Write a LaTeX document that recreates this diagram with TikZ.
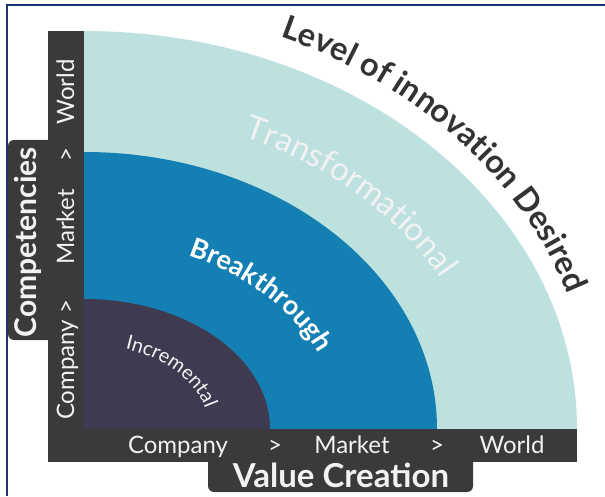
\documentclass[tikz,border=0pt]{standalone}
\usepackage{fontspec}
\setmainfont{Lato}
\usetikzlibrary{decorations.text, positioning}
\definecolor{barcol}{HTML}{3A3A3C}
\definecolor{inccol}{HTML}{403A51}
\definecolor{breakcol}{HTML}{147FB2}
\definecolor{transcol}{HTML}{BCE1DF}
\definecolor{framecol}{HTML}{1C3470}
\definecolor{titlecol}{HTML}{333333}
\definecolor{labelcol}{HTML}{F2F2F2}
\tikzset{
	x=1pt, y=1pt, % one unit is one pixel of the reference
	bar/.style={fill=barcol}, % the dark axis bars
	axis label/.style={text=labelcol, font=\fontsize{24}{24}\selectfont, inner sep=0pt},
	axis title/.style={text=labelcol, font=\bfseries\fontsize{#1}{#1}\selectfont, inner sep=0pt},
	band text/.style={decorate, decoration={text along path, text align=center, text={#1}}},
}
\begin{document}
\begin{tikzpicture}
	\useasboundingbox (0,0) rectangle (605,496);
	\coordinate (C) at (84,67);
	% the three bands
	\fill[transcol] (C) -- ++(0,398) arc[start angle=90, end angle=0, x radius=493, y radius=398] -- cycle;
	\fill[breakcol] (C) -- ++(0,277) arc[start angle=90, end angle=0, x radius=353, y radius=277] -- cycle;
	\fill[inccol] (C) -- ++(0,130) arc[start angle=90, end angle=0, x radius=186, y radius=130] -- cycle;
	% axis bars and tabs
	\fill[bar] (48,34) rectangle (84,465);
	\fill[bar] (48,34) rectangle (577,67);
	\fill[bar, rounded corners=6] (8,156) rectangle (62,356);
	\fill[bar, rounded corners=6] (208,4) rectangle (473,50);
	\draw[framecol, line width=2] (7,0) -- (7,491) -- (605,491);
	% axis labels
	\node[axis title=30, rotate=90, anchor=base] (comptitle) at (36,254) {Competencies};
	\node[axis title=33, anchor=base] (valuetitle) at (341,9) {Value Creation};
	\node[axis label, anchor=base] (vcompany) at (178,43) {Company};
	\node[axis label, anchor=base] (vgt1) at (275,43) {>};
	\node[axis label, anchor=base] (vmarket) at (352,43) {Market};
	\node[axis label, anchor=base] (vgt2) at (437,43) {>};
	\node[axis label, anchor=base] (vworld) at (512,43) {World};
	\node[axis label, rotate=90, anchor=base] (ccompany) at (74,126) {Company};
	\node[axis label, rotate=90, anchor=base] (cgt1) at (74,189) {>};
	\node[axis label, rotate=90, anchor=base] (cmarket) at (74,269) {Market};
	\node[axis label, rotate=90, anchor=base] (cgt2) at (74,341) {>};
	\node[axis label, rotate=90, anchor=base] (cworld) at (74,404) {World};
	% curved texts
	\path[band text={|\fontsize{20}{20}\selectfont\color{labelcol}|Incremental}]
		(C) ++(72:125 and 85) arc[start angle=72, end angle=12, x radius=125, y radius=85];
	\path[band text={|\bfseries\fontsize{27}{27}\selectfont\color{white}|Breakthrough}]
		(C) ++(74:255 and 190) arc[start angle=74, end angle=13, x radius=255, y radius=190];
	\path[band text={|\fontsize{33}{33}\selectfont\color{labelcol}|Transformational}]
		(C) ++(77:405 and 318) arc[start angle=77, end angle=16, x radius=405, y radius=318];
	\path[band text={|\bfseries\fontsize{32.5}{32.5}\selectfont\color{titlecol}|Level of innovation Desired}]
		(C) ++(73:510 and 425) arc[start angle=73, end angle=12, x radius=510, y radius=425];
\end{tikzpicture}
\end{document}
